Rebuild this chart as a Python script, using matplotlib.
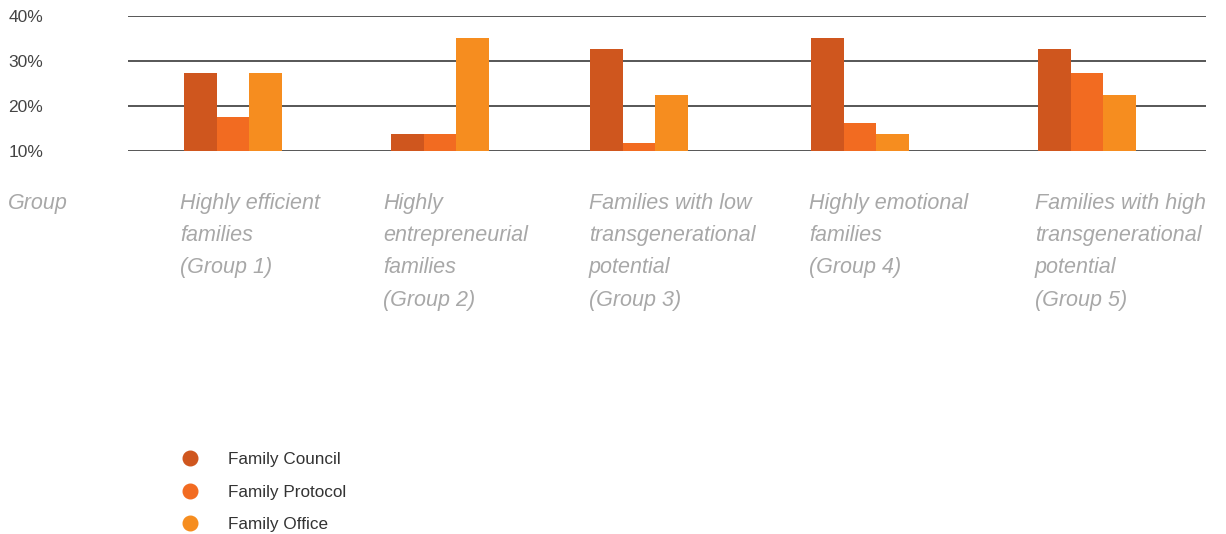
import matplotlib.pyplot as plt
from matplotlib.lines import Line2D

# data
groups = ["Highly efficient\nfamilies\n(Group 1)",
          "Highly\nentrepreneurial\nfamilies\n(Group 2)",
          "Families with low\ntransgenerational\npotential\n(Group 3)",
          "Highly emotional\nfamilies\n(Group 4)",
          "Families with high\ntransgenerational\npotential\n(Group 5)"]
council = [27.2, 13.8, 32.5, 35.0, 32.5]
protocol = [17.5, 13.8, 11.8, 16.2, 27.2]
office = [27.2, 35.0, 22.4, 13.8, 22.4]
series_names = ["Family Council", "Family Protocol", "Family Office"]
yticks = [10, 20, 30, 40]

# layout (pixel based x axis)
W, H = 1226, 534
group_left = [184, 391, 590, 811, 1038]
label_left = [180, 383, 589, 809, 1035]
bw = 32.5
colors = ["#CF561E", "#F26B21", "#F68D1F"]

fig = plt.figure(figsize=(W / 100, H / 100), dpi=100)
ax = fig.add_axes([128 / W, 1 - 151 / H, (1206 - 128) / W, (151 - 15.5) / H])

for k, vals in enumerate([council, protocol, office]):
    xs = [g + k * bw for g in group_left]
    ax.bar(xs, [v - 10 for v in vals], width=bw, bottom=10, align="edge",
           color=colors[k], zorder=3)

ax.set_xlim(128, 1206)
ax.set_ylim(10, 40)
ax.set_yticks(yticks)
ax.set_yticklabels([f"{t}%" for t in yticks], fontsize=12.5, color="#444444",
                   family="Liberation Sans")
ax.tick_params(axis="y", length=0, pad=61)
ax.tick_params(axis="x", length=0, labelbottom=False)
ax.yaxis.grid(True, color="#3a3a3a", lw=1.2, zorder=1)
ax.set_axisbelow(True)
for s in ax.spines.values():
    s.set_visible(False)

lab_kw = dict(fontsize=15.5, style="italic", color="#a8a8a8", va="top",
              ha="left", linespacing=1.70, family="Liberation Sans")
fig.text(8 / W, 1 - 193 / H, "Group", **lab_kw)
for x, g in zip(label_left, groups):
    fig.text(x / W, 1 - 193 / H, g, **lab_kw)

handles = [Line2D([], [], ls="none", marker="o", markersize=10.5,
                  markerfacecolor=c, markeredgecolor=c) for c in colors]
fig.legend(handles, series_names, loc="upper left",
           bbox_to_anchor=(181 / W, 1 - 452 / H), frameon=False,
           borderpad=0, borderaxespad=0, handlelength=1.0, handletextpad=1.75,
           labelspacing=1.03, prop={"family": "Liberation Sans", "size": 12.3},
           labelcolor="#333333")

fig.savefig("out.png", dpi=100)
